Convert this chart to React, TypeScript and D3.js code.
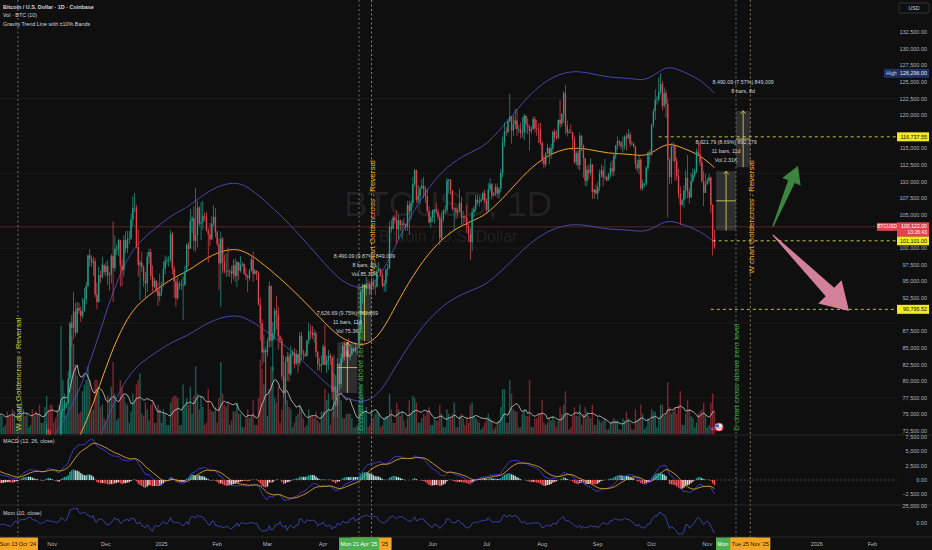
import React, { useMemo } from 'react';
import * as d3 from 'd3';

// ── Data ──────────────────────────────────────────────────────────────────────
// One row per day: [close, high, low, volume]; prices in k USD, volume in k BTC.
type Row = [number, number, number, number];

const FIRST_OPEN = 59.0;

const SEP_24: Row[] = [
  [57.3, 59.0, 57.2, 7], [59.1, 59.4, 57.1, 9], [57.5, 59.8, 57.4, 9], [58.0, 58.5, 55.6, 11], [56.2, 58.3, 55.7, 9],
  [53.9, 56.9, 52.6, 14], [54.2, 54.8, 53.7, 5], [54.9, 55.3, 53.6, 5], [57.0, 58.1, 54.6, 11], [57.6, 58.0, 56.4, 9],
  [57.3, 57.9, 55.5, 10], [58.1, 58.6, 57.3, 8], [60.5, 60.6, 57.6, 10], [60.0, 60.6, 59.5, 4], [59.2, 60.4, 58.7, 5],
  [58.2, 59.2, 57.5, 9], [60.3, 61.3, 57.6, 11], [61.8, 62.0, 59.2, 13], [63.0, 64.1, 61.7, 13], [63.2, 64.0, 62.4, 9],
  [63.3, 63.6, 62.8, 4], [63.6, 64.0, 62.4, 5], [63.3, 64.7, 62.8, 8], [64.3, 64.8, 62.7, 8], [63.2, 64.7, 62.6, 8],
  [65.2, 65.8, 62.9, 11], [65.8, 66.5, 64.8, 9], [65.9, 66.3, 65.4, 4], [65.6, 66.1, 65.4, 4], [63.3, 65.6, 62.8, 10],
];
const OCT_24: Row[] = [
  [60.8, 64.1, 60.2, 14], [60.6, 62.4, 59.9, 11], [60.8, 61.5, 59.8, 9], [62.1, 62.5, 60.5, 8], [62.1, 62.4, 61.7, 3],
  [62.8, 63.0, 61.8, 4], [62.3, 64.5, 62.1, 10], [62.1, 63.2, 61.8, 8], [60.6, 62.5, 60.3, 8], [60.3, 61.3, 58.9, 11],
  [62.5, 63.4, 60.1, 10], [63.2, 63.5, 62.4, 4], [62.8, 63.3, 62.0, 4], [66.0, 66.5, 62.4, 13], [67.0, 67.9, 64.8, 15],
  [67.6, 68.4, 66.7, 11], [67.4, 67.9, 66.7, 8], [68.4, 68.9, 67.1, 9], [68.4, 68.7, 68.1, 3], [69.0, 69.4, 68.1, 4],
  [67.4, 69.5, 66.6, 11], [67.4, 67.8, 66.6, 8], [66.7, 67.5, 65.3, 10], [68.2, 68.8, 66.6, 9], [66.6, 68.8, 65.5, 13],
  [67.0, 67.4, 66.5, 5], [67.9, 68.3, 66.8, 5], [69.9, 70.3, 67.6, 12], [72.7, 73.6, 69.7, 17], [72.3, 72.9, 71.4, 11],
  [70.2, 72.7, 69.7, 13],
];
const NOV_24: Row[] = [
  [69.5, 71.6, 68.8, 13], [69.3, 69.9, 69.0, 5], [68.8, 69.4, 67.5, 7], [67.8, 69.5, 66.8, 11], [69.4, 70.6, 67.5, 13],
  [75.6, 76.5, 69.3, 48], [75.9, 76.9, 74.5, 24], [76.5, 77.2, 75.6, 18], [76.7, 76.9, 75.9, 8], [80.4, 81.5, 76.5, 23],
  [88.7, 89.0, 80.2, 45], [88.0, 89.9, 85.2, 43], [90.5, 93.4, 86.3, 40], [87.3, 91.8, 86.7, 31], [91.0, 91.9, 87.2, 26],
  [90.6, 91.8, 90.1, 9], [89.8, 91.2, 88.9, 10], [90.5, 92.5, 89.4, 19], [92.3, 94.0, 90.6, 22], [94.3, 94.9, 91.6, 24],
  [98.9, 99.0, 94.1, 30], [98.4, 99.8, 97.2, 24], [97.8, 98.9, 97.2, 10], [98.0, 98.7, 95.8, 11], [93.0, 98.5, 92.6, 24],
  [91.9, 94.8, 90.8, 24], [95.9, 97.2, 91.8, 19], [95.6, 96.6, 94.7, 12], [97.5, 98.7, 95.4, 13], [96.4, 97.5, 96.0, 7],
];
const DEC_24: Row[] = [
  [97.3, 97.9, 95.7, 6], [95.9, 98.2, 94.5, 17], [96.0, 96.4, 93.6, 16], [98.8, 99.1, 94.7, 21], [97.0, 104.0, 91.9, 32],
  [99.9, 101.9, 96.5, 18], [99.9, 100.5, 99.0, 6], [101.2, 101.4, 98.8, 7], [97.4, 101.2, 94.2, 24], [96.7, 98.3, 94.3, 21],
  [101.2, 101.9, 95.7, 17], [100.0, 102.5, 99.3, 14], [101.4, 102.6, 99.2, 13], [101.4, 102.6, 100.6, 5], [104.3, 105.2, 101.2, 10],
  [106.0, 107.8, 103.3, 18], [106.1, 108.3, 105.4, 15], [100.2, 106.5, 100.0, 22], [97.5, 102.8, 95.7, 24], [97.8, 98.2, 92.2, 27],
  [97.2, 99.5, 96.4, 9], [95.1, 97.4, 94.2, 8], [94.7, 96.4, 92.4, 14], [98.7, 99.4, 93.4, 11], [99.4, 99.9, 97.6, 6],
  [95.8, 99.9, 95.2, 13], [94.2, 97.4, 93.5, 14], [95.1, 95.5, 94.0, 5], [93.7, 95.2, 93.3, 5], [92.8, 94.9, 91.3, 13],
  [93.4, 96.2, 92.0, 11],
];
const JAN_25: Row[] = [
  [94.4, 94.9, 92.8, 5], [96.9, 98.0, 94.2, 11], [98.1, 98.9, 96.1, 9], [98.2, 98.7, 97.5, 4], [98.3, 98.8, 97.2, 4],
  [102.1, 102.7, 97.9, 14], [96.9, 102.4, 96.1, 16], [95.0, 97.3, 92.5, 17], [92.5, 95.4, 91.2, 17], [94.7, 95.8, 92.2, 16],
  [94.5, 95.0, 93.8, 4], [94.5, 95.3, 93.7, 4], [94.5, 95.8, 89.2, 22], [96.5, 97.4, 94.3, 13], [100.5, 100.7, 96.5, 16],
  [99.9, 100.9, 97.3, 13], [104.1, 105.9, 99.9, 21], [104.5, 104.9, 102.3, 9], [101.1, 106.3, 99.6, 17], [102.0, 109.1, 99.5, 30],
  [106.1, 107.1, 100.1, 18], [103.7, 106.3, 103.3, 11], [103.9, 106.9, 101.2, 17], [104.8, 107.1, 102.8, 12], [104.7, 105.3, 104.1, 4],
  [102.6, 105.5, 102.5, 5], [102.1, 103.0, 97.8, 20], [101.3, 103.8, 100.3, 11], [103.7, 104.8, 101.3, 10], [104.7, 106.4, 103.3, 10],
  [102.4, 106.0, 101.6, 12],
];
const FEB_25: Row[] = [
  [100.6, 102.7, 100.3, 5], [97.7, 101.5, 93.7, 16], [101.4, 102.5, 91.2, 32], [97.9, 101.7, 96.2, 18], [96.6, 99.0, 96.2, 13],
  [96.6, 99.2, 95.7, 12], [96.5, 100.1, 95.7, 14], [96.5, 96.8, 95.7, 4], [96.1, 97.3, 94.7, 6], [97.4, 98.3, 95.3, 10],
  [95.8, 98.5, 94.9, 10], [97.9, 98.1, 94.1, 14], [96.6, 97.3, 95.2, 9], [97.5, 98.8, 96.3, 9], [97.6, 97.9, 97.2, 3],
  [96.1, 97.7, 96.0, 3], [95.8, 97.0, 95.2, 7], [95.5, 96.0, 93.4, 11], [96.6, 96.9, 95.1, 7], [98.3, 98.7, 96.5, 8],
  [96.1, 99.5, 94.9, 15], [96.6, 96.9, 96.0, 4], [96.2, 96.7, 95.2, 4], [91.5, 96.5, 91.4, 16], [88.7, 92.5, 86.1, 33],
  [84.3, 89.3, 82.3, 29], [84.7, 87.0, 82.8, 22], [84.4, 85.1, 78.2, 37],
];
const MAR_25: Row[] = [
  [86.0, 86.5, 83.7, 8], [94.3, 95.0, 85.1, 20], [86.1, 94.4, 85.1, 30], [87.2, 88.9, 81.5, 30], [90.6, 91.0, 86.3, 16],
  [89.9, 92.8, 87.8, 14], [86.7, 91.2, 84.7, 21], [86.2, 86.9, 85.7, 5], [80.7, 86.5, 80.1, 11], [78.5, 83.9, 77.5, 25],
  [82.9, 83.6, 76.6, 24], [83.7, 84.4, 80.0, 15], [81.1, 84.3, 79.9, 12], [84.0, 85.3, 80.8, 11], [84.3, 84.7, 83.7, 3],
  [82.6, 85.0, 81.9, 5], [84.1, 84.7, 82.4, 8], [82.7, 84.1, 81.2, 9], [86.8, 87.4, 82.3, 13], [84.2, 87.4, 83.2, 11],
  [84.0, 84.7, 83.2, 7], [83.8, 84.5, 83.6, 3], [86.1, 86.2, 83.7, 4], [87.5, 88.8, 85.6, 11], [87.4, 88.5, 86.3, 8],
  [86.9, 88.3, 86.3, 8], [87.2, 87.8, 85.8, 7], [84.4, 87.5, 83.6, 10], [82.6, 84.6, 81.6, 6], [82.3, 83.5, 81.6, 5],
  [82.5, 83.9, 81.3, 10],
];
const APR_25: Row[] = [
  [85.2, 85.5, 82.4, 10], [82.5, 88.5, 82.3, 20], [83.1, 83.9, 81.2, 15], [83.8, 84.7, 81.7, 18], [83.5, 84.2, 82.4, 4],
  [78.4, 83.8, 77.2, 10], [79.2, 81.2, 74.5, 35], [76.3, 80.9, 76.2, 20], [82.6, 83.5, 74.6, 27], [79.6, 82.7, 78.5, 18],
  [83.4, 84.2, 78.9, 15], [85.3, 85.9, 82.8, 7], [83.7, 86.0, 83.1, 7], [84.5, 85.8, 83.7, 9], [83.6, 86.5, 83.6, 9],
  [84.0, 85.5, 83.1, 9], [84.9, 85.5, 83.8, 7], [84.5, 85.1, 84.3, 3], [85.0, 85.6, 84.3, 3], [85.1, 85.3, 83.9, 4],
  [87.5, 88.9, 85.1, 14], [93.4, 93.9, 87.2, 22], [93.7, 94.7, 91.7, 17], [93.9, 94.0, 91.7, 10], [94.7, 95.7, 92.9, 12],
  [94.6, 95.3, 93.9, 3], [93.8, 95.0, 93.0, 4], [95.0, 95.6, 92.9, 10], [94.3, 95.5, 93.8, 7], [94.2, 95.2, 92.9, 9],
];
const MAY_25: Row[] = [
  [96.5, 97.4, 94.1, 10], [96.9, 97.9, 96.3, 9], [95.9, 96.9, 95.7, 3], [94.3, 96.3, 94.1, 4], [94.7, 95.2, 93.5, 7],
  [96.8, 96.9, 93.4, 8], [97.0, 97.6, 95.8, 8], [103.2, 104.0, 96.9, 18], [102.9, 104.3, 102.3, 11], [104.6, 104.9, 102.8, 5],
  [104.2, 105.0, 103.7, 5], [102.8, 105.7, 100.7, 14], [104.2, 105.0, 101.4, 11], [103.5, 104.3, 102.6, 8], [103.7, 104.2, 101.3, 10],
  [103.5, 104.5, 103.1, 6], [103.2, 103.7, 102.6, 3], [106.5, 107.1, 102.6, 7], [105.6, 107.1, 102.0, 15], [106.8, 107.3, 104.2, 9],
  [109.6, 110.7, 106.1, 17], [111.7, 111.9, 109.3, 16], [107.3, 111.8, 106.8, 14], [107.8, 109.5, 106.9, 5], [109.0, 109.3, 106.6, 5],
  [109.4, 110.4, 108.8, 7], [108.9, 110.7, 107.5, 9], [107.8, 109.3, 106.8, 8], [105.6, 108.9, 105.3, 10], [103.9, 106.3, 103.7, 12],
  [104.6, 104.9, 103.1, 4],
];
const JUN_25: Row[] = [
  [105.7, 105.8, 103.9, 4], [105.8, 105.9, 103.7, 7], [105.4, 106.8, 105.1, 6], [104.7, 105.9, 104.2, 6], [101.5, 105.0, 100.4, 13],
  [104.3, 105.4, 101.1, 9], [105.6, 105.9, 103.9, 3], [105.7, 106.5, 105.1, 3], [110.2, 110.6, 105.3, 11], [110.3, 110.4, 108.3, 9],
  [108.7, 110.4, 108.1, 7], [105.9, 108.5, 105.6, 9], [106.0, 106.2, 102.7, 14], [105.4, 106.2, 104.3, 3], [105.6, 106.0, 104.5, 3],
  [106.8, 108.9, 105.4, 8], [104.6, 107.7, 103.4, 9], [104.8, 105.6, 103.6, 7], [104.6, 105.0, 103.9, 4], [103.3, 106.5, 102.3, 7],
  [102.1, 103.9, 100.9, 5], [100.9, 103.0, 98.2, 13], [105.4, 106.0, 99.6, 14], [105.9, 106.3, 104.6, 8], [107.3, 108.0, 105.4, 7],
  [106.9, 108.0, 106.5, 6], [107.1, 107.8, 106.2, 5], [107.3, 107.6, 106.8, 2], [108.3, 108.5, 107.2, 3], [107.1, 108.8, 106.8, 5],
];
const JUL_25: Row[] = [
  [105.7, 107.5, 105.3, 7], [108.8, 109.8, 105.6, 9], [109.6, 110.5, 108.5, 7], [107.9, 109.8, 107.3, 6], [108.2, 108.4, 107.8, 2],
  [109.2, 109.7, 107.8, 3], [108.2, 109.7, 107.6, 5], [108.9, 109.2, 107.4, 6], [111.3, 111.9, 108.4, 12], [115.9, 116.8, 110.6, 20],
  [117.5, 118.9, 115.2, 20], [117.4, 118.2, 116.9, 5], [119.1, 119.5, 117.3, 5], [119.8, 123.2, 118.9, 24], [117.7, 119.5, 115.7, 18],
  [118.6, 120.0, 116.9, 11], [119.2, 120.9, 117.9, 10], [117.9, 120.9, 116.9, 10], [117.9, 118.5, 117.3, 3], [117.3, 118.9, 116.5, 3],
  [117.4, 119.7, 116.6, 9], [119.9, 120.2, 116.2, 11], [118.6, 120.0, 117.3, 8], [118.3, 119.5, 117.1, 8], [117.6, 118.5, 114.7, 24],
  [117.9, 118.3, 117.2, 3], [119.4, 119.8, 117.8, 3], [118.0, 119.8, 117.4, 7], [117.9, 119.3, 116.9, 7], [117.8, 118.8, 115.8, 9],
  [115.8, 118.9, 115.5, 9],
];
const AUG_25: Row[] = [
  [113.3, 116.1, 112.7, 15], [112.6, 114.0, 112.0, 5], [114.2, 114.4, 112.2, 4], [115.1, 115.7, 114.1, 5], [114.1, 115.1, 112.6, 7],
  [115.0, 115.7, 113.4, 6], [117.5, 117.7, 114.3, 8], [116.7, 117.9, 115.9, 6], [116.5, 117.7, 116.3, 3], [119.3, 119.3, 116.6, 6],
  [118.7, 122.3, 118.1, 12], [120.2, 120.3, 118.2, 9], [123.3, 123.6, 118.9, 13], [118.4, 124.5, 117.2, 19], [117.4, 119.2, 116.8, 9],
  [117.5, 117.9, 117.2, 2], [117.4, 118.6, 117.3, 3], [116.3, 117.5, 114.7, 8], [112.9, 116.8, 112.7, 12], [114.3, 114.6, 112.4, 8],
  [112.5, 114.8, 111.9, 8], [116.9, 117.4, 111.7, 13], [115.4, 117.0, 114.6, 4], [113.5, 115.6, 110.6, 9], [110.1, 113.6, 109.3, 12],
  [111.8, 112.4, 109.3, 10], [111.3, 112.6, 110.3, 8], [112.6, 113.5, 110.9, 7], [108.4, 112.6, 107.4, 13], [108.8, 108.9, 107.4, 4],
  [108.2, 109.5, 108.1, 4],
];
const SEP_25: Row[] = [
  [109.2, 109.9, 107.3, 7], [111.2, 111.8, 108.6, 6], [111.7, 112.6, 110.6, 5], [110.7, 112.3, 109.3, 6], [110.7, 113.4, 110.2, 7],
  [110.2, 110.9, 110.0, 2], [111.1, 111.3, 110.2, 2], [112.0, 112.9, 110.6, 5], [111.5, 113.2, 110.9, 6], [113.9, 114.3, 110.8, 7],
  [115.5, 115.5, 113.4, 6], [116.1, 116.8, 114.8, 6], [115.9, 116.3, 115.3, 2], [115.3, 116.1, 114.8, 2], [115.4, 116.8, 114.4, 7],
  [116.8, 117.0, 114.8, 6], [116.5, 117.3, 114.7, 10], [117.1, 117.9, 116.5, 7], [115.7, 117.5, 115.2, 5], [115.7, 116.1, 115.5, 2],
  [115.3, 115.9, 115.1, 2], [112.7, 115.4, 111.9, 11], [112.0, 113.3, 111.5, 6], [113.3, 113.9, 111.1, 7], [109.0, 113.5, 108.7, 13],
  [109.7, 110.3, 108.6, 9], [109.7, 109.8, 109.2, 2], [112.1, 112.3, 109.4, 3], [114.4, 114.5, 111.6, 7], [114.0, 114.8, 112.7, 6],
];
const OCT_25: Row[] = [
  [118.6, 118.7, 113.9, 11], [120.6, 121.0, 118.2, 10], [122.3, 123.9, 119.3, 10], [122.4, 122.9, 121.6, 3], [123.5, 125.7, 122.0, 7],
  [124.7, 126.296, 123.1, 13], [121.4, 125.1, 120.7, 13], [123.3, 124.2, 121.1, 8], [121.7, 123.8, 119.6, 9], [113.2, 122.5, 104.6, 23],
  [110.7, 113.5, 109.6, 12], [115.2, 115.8, 109.7, 9], [115.3, 116.0, 113.0, 10], [113.1, 115.6, 110.1, 12], [110.8, 113.6, 110.2, 9],
  [108.2, 111.9, 107.5, 13], [106.5, 109.3, 103.5, 19], [107.2, 107.5, 106.4, 4], [108.7, 109.5, 106.1, 4], [110.6, 111.7, 107.4, 9],
  [108.5, 114.0, 107.5, 15], [107.6, 109.0, 106.7, 11], [110.1, 111.3, 107.6, 8], [111.0, 112.0, 109.8, 7], [111.6, 111.9, 110.6, 3],
  [114.5, 115.0, 111.3, 5], [114.1, 116.1, 113.9, 9], [112.9, 116.0, 112.3, 10], [110.1, 113.6, 109.8, 11], [108.3, 111.6, 106.3, 14],
  [109.6, 111.2, 108.6, 9],
];
const NOV_25: Row[] = [
  [110.1, 110.6, 109.5, 3], [110.6, 111.2, 109.7, 4], [106.5, 110.8, 105.3, 14], [101.5, 106.6, 98.9, 18], [100.122, 102.8, 99.9, 10],
];

const MONTHS: [string, Row[]][] = [
  ['2024-09-01', SEP_24], ['2024-10-01', OCT_24], ['2024-11-01', NOV_24], ['2024-12-01', DEC_24],
  ['2025-01-01', JAN_25], ['2025-02-01', FEB_25], ['2025-03-01', MAR_25], ['2025-04-01', APR_25],
  ['2025-05-01', MAY_25], ['2025-06-01', JUN_25], ['2025-07-01', JUL_25], ['2025-08-01', AUG_25],
  ['2025-09-01', SEP_25], ['2025-10-01', OCT_25], ['2025-11-01', NOV_25],
];

// Gravity trend line; bands are ±10 %
const TREND: [string, number][] = [
  ['2024-10-03', 57.0], ['2024-10-20', 61.0], ['2024-11-05', 65.9], ['2024-11-18', 72.2], ['2024-11-28', 79.7],
  ['2024-12-05', 85.1], ['2024-12-13', 89.6], ['2024-12-20', 91.9], ['2024-12-29', 93.7], ['2025-01-07', 95.5],
  ['2025-01-15', 96.4], ['2025-01-22', 97.8], ['2025-02-01', 99.4], ['2025-02-10', 99.9], ['2025-02-16', 99.6],
  ['2025-02-24', 98.2], ['2025-03-08', 95.5], ['2025-03-19', 92.7], ['2025-03-30', 89.6], ['2025-04-10', 86.5],
  ['2025-04-21', 85.3], ['2025-04-27', 85.7], ['2025-05-04', 87.4], ['2025-05-13', 92.2], ['2025-05-24', 97.2],
  ['2025-06-04', 100.9], ['2025-06-15', 103.2], ['2025-06-26', 104.4], ['2025-07-02', 105.3], ['2025-07-13', 108.3],
  ['2025-07-24', 111.7], ['2025-08-04', 114.0], ['2025-08-16', 115.2], ['2025-08-27', 114.9], ['2025-09-07', 114.2],
  ['2025-09-18', 114.2], ['2025-09-28', 113.7], ['2025-10-05', 115.1], ['2025-10-11', 115.8], ['2025-10-18', 115.1],
  ['2025-10-28', 114.0], ['2025-11-05', 112.1],
];

// Date & price range drawings
const RANGES = [
  { start: '2025-04-09', bars: 11, from: 78.22, to: 85.85, lines: ['7,626.69 (9.75%) 762,669', '11 bars, 11d', 'Vol 75.3K'] },
  { start: '2025-04-20', bars: 8, from: 86.0, to: 94.49, lines: ['8,490.09 (9.87%) 849,009', '8 bars, 8d', 'Vol 85.39K'] },
  { start: '2025-11-06', bars: 11, from: 102.65, to: 111.57, lines: ['8,921.79 (8.69%) 892,179', '11 bars, 11d', 'Vol 2.31K'] },
  { start: '2025-11-17', bars: 8, from: 112.16, to: 120.65, lines: ['8,490.09 (7.57%) 849,009', '8 bars, 8d'] },
];

const LEVELS = [
  { price: 116.73755, from: '2025-10-05', label: '116,737.55' },
  { price: 101.101, from: '2025-11-04', label: '101,101.00' },
  { price: 90.79552, from: '2025-11-03', label: '90,795.52' },
];

// drawn in this order so the later tags cover the earlier ones
const VMARKS = [
  { date: '2024-10-13', line: 'rgba(190,190,190,0.55)', text: 'W chart Goldencross - Reversal', color: '#c3c13c', pos: 'bottom', tag: '#f5a524', tagText: '#131313' },
  { date: '2025-04-28', line: 'rgba(245,165,36,0.75)', text: 'W chart Goldencross - Reversal', color: '#f5a524', pos: 'middle', tag: '#f5a524', tagText: '#131313' },
  { date: '2025-04-21', line: 'rgba(170,190,170,0.55)', text: 'D chart cross above zero level', color: '#43a047', pos: 'bottom', tag: '#4caf50', tagText: '#ffffff' },
  { date: '2025-11-17', line: 'rgba(190,190,190,0.5)', text: 'D chart cross above zero level', color: '#43a047', pos: 'bottom', tag: '#4caf50', tagText: '#ffffff' },
  { date: '2025-11-25', line: 'rgba(210,190,120,0.6)', text: 'W chart Goldencross - Reversal', color: '#f5a524', pos: 'middle', tag: '#f5a524', tagText: '#131313' },
];

const ARROWS = [
  { from: ['2025-12-07T12:00', 102.0], to: ['2026-01-19', 90.55], color: '#e48aa6', head: 27, half: 16.5, shaft: 6 },
  { from: ['2025-12-07T12:00', 103.2], to: ['2025-12-21T12:00', 112.35], color: '#3f8f42', head: 17, half: 10, shaft: 3.6 },
];

const GRID_PRICES = [77.5, 88.75, 100, 111.25, 122.5];
const PRICE_LINE = 103.2;
const LAST_TIME = '13:26:43';

// ── Layout ────────────────────────────────────────────────────────────────────
const W = 932, H = 550;
const PANE_R = 897;
const MAIN_B = 435, MACD_B = 505, MOM_B = 537;
const BG = '#0f0f0f';
const UP = '#1f9f8a', DOWN = '#e5424f';
const TXT = '#b2b5be';
const FONT = '"Liberation Sans", Arial, sans-serif';
const DAY = 86400000;

const dt = (s: string) => new Date(s.length > 10 ? s + ':00Z' : s + 'T00:00:00Z');

const x = d3.scaleUtc().domain([dt('2024-10-03'), dt('2026-02-01')]).range([0, 872.4]);
const yP = d3.scaleLinear().domain([72.5, 132.5]).range([431, 32]);
const yVol = d3.scaleLinear().domain([0, 48]).range([434, 326]);
const yMacd = d3.scaleLinear().domain([0, 7.5]).range([480, 437]);
const yMom = d3.scaleLinear().domain([0, 25]).range([523, 505.5]);

const fmtP = d3.format(',.2f');
const fmtTag = d3.utcFormat("%a %-d %b '%y");

function ema(vals: number[], n: number) {
  const k = 2 / (n + 1);
  let e = vals[0];
  return vals.map((v, i) => (e = i === 0 ? v : v * k + e * (1 - k)));
}

function arrowPoints(x0: number, y0: number, x1: number, y1: number, head: number, half: number, shaft: number) {
  const L = Math.hypot(x1 - x0, y1 - y0);
  const ux = (x1 - x0) / L, uy = (y1 - y0) / L;
  const px = -uy, py = ux;
  const bx = x1 - ux * head, by = y1 - uy * head;
  const pts = [
    [x0 + px * 0.6, y0 + py * 0.6], [bx + px * shaft, by + py * shaft], [bx + px * half, by + py * half],
    [x1, y1], [bx - px * half, by - py * half], [bx - px * shaft, by - py * shaft], [x0 - px * 0.6, y0 - py * 0.6],
  ];
  return pts.map(p => p.join(',')).join(' ');
}

export default function App() {
  const data = useMemo(() => {
    const bars: { t: Date; o: number; c: number; h: number; l: number; v: number }[] = [];
    let prev = FIRST_OPEN;
    MONTHS.forEach(([start, rows]) => {
      const t0 = dt(start).getTime();
      rows.forEach(([c, h, l, v], i) => {
        bars.push({ t: new Date(t0 + i * DAY), o: prev, c, h: Math.max(h, prev, c), l: Math.min(l, prev, c), v });
        prev = c;
      });
    });
    const closes = bars.map(b => b.c);
    const e12 = ema(closes, 12), e26 = ema(closes, 26);
    const macd = closes.map((_, i) => e12[i] - e26[i]);
    const signal = ema(macd, 9);
    const hist = macd.map((m, i) => m - signal[i]);
    const mom = closes.map((c, i) => (i >= 10 ? c - closes[i - 10] : 0));
    const volMa = bars.map((_, i) => d3.mean(bars.slice(Math.max(0, i - 9), i + 1), b => b.v) as number);
    return { bars, macd, signal, hist, mom, volMa };
  }, []);

  const { bars, macd, signal, hist, mom, volMa } = data;
  const last = bars[bars.length - 1];
  const hi = d3.max(bars, b => b.h) as number;

  const idxLine = (ys: number[], sy: (v: number) => number, from = 0) =>
    d3.line<number>().x((_, i) => x(bars[i + from].t)).y(v => sy(v))(ys.slice(from)) || '';

  const trendPts = TREND.map(([d, v]) => [x(dt(d)), v] as [number, number]);
  const band = (f: number) =>
    d3.line<[number, number]>().x(p => p[0]).y(p => yP(p[1] * f)).curve(d3.curveBasis)(trendPts) || '';

  // axis labels that sit under a tag are not shown (TradingView hides them too)
  const tagXs = VMARKS.map(m => x(dt(m.date)));
  const monthTicks = x.ticks(d3.utcMonth.every(1) as d3.TimeInterval)
    .filter(t => tagXs.every(tx => Math.abs(x(t) - tx) > 24));
  const tagYs = [...LEVELS.map(l => yP(l.price)), yP(PRICE_LINE) + 3];
  const priceTicks = d3.range(72.5, 133, 2.5).filter(p => tagYs.every(ty => Math.abs(yP(p) - ty) > 6.5));

  return (
    <svg width={W} height={H} style={{ position: 'fixed', left: 0, top: 0 }} fontFamily={FONT}>
      <defs>
        <clipPath id="cMain"><rect x={0} y={0} width={PANE_R} height={MAIN_B} /></clipPath>
        <clipPath id="cMacd"><rect x={0} y={MAIN_B} width={PANE_R} height={MACD_B - MAIN_B} /></clipPath>
        <clipPath id="cMom"><rect x={0} y={MACD_B} width={PANE_R} height={MOM_B - MACD_B} /></clipPath>
      </defs>
      <rect width={W} height={H} fill={BG} />

      {/* grid */}
      {GRID_PRICES.map(p => (
        <line key={p} x1={0} x2={PANE_R} y1={yP(p)} y2={yP(p)} stroke="#1a1a1a" strokeWidth={1} />
      ))}

      {/* watermark */}
      <text x={448} y={216} textAnchor="middle" fontSize={35} fill="rgba(170,170,170,0.13)">BTCUSD, 1D</text>
      <text x={448} y={242} textAnchor="middle" fontSize={16} fill="rgba(170,170,170,0.13)">Bitcoin / U.S. Dollar</text>

      {/* vertical markers */}
      {VMARKS.map(m => {
        const xx = x(dt(m.date));
        return <line key={'vl' + m.date} x1={xx} x2={xx} y1={0} y2={MOM_B} stroke={m.line} strokeWidth={1} strokeDasharray="2,2.5" />;
      })}

      {/* current price line */}
      <line x1={0} x2={PANE_R} y1={yP(PRICE_LINE)} y2={yP(PRICE_LINE)} stroke="rgba(229,66,79,0.45)" strokeWidth={0.8} />

      <g clipPath="url(#cMain)">
        {/* volume */}
        {bars.map((b, i) => (
          <rect key={'v' + i} x={x(b.t) - 0.7} width={1.4} y={yVol(b.v)} height={yVol(0) - yVol(b.v)}
            fill={b.c >= b.o ? 'rgba(31,159,138,0.55)' : 'rgba(229,66,79,0.5)'} />
        ))}
        <path d={idxLine(volMa, v => yVol(v), 0)} fill="none" stroke="rgba(235,235,235,0.85)" strokeWidth={0.8} />

        {/* gravity trend line with bands */}
        <path d={band(1.1)} fill="none" stroke="#4d4dbb" strokeWidth={0.9} />
        <path d={band(0.9)} fill="none" stroke="#4d4dbb" strokeWidth={0.9} />
        <path d={band(1)} fill="none" stroke="#f5a524" strokeWidth={1} />

        {/* candles */}
        {bars.map((b, i) => {
          const xx = x(b.t);
          const col = b.c >= b.o ? UP : DOWN;
          const top = yP(Math.max(b.o, b.c)), bot = yP(Math.min(b.o, b.c));
          return (
            <g key={'c' + i}>
              <rect x={xx - 0.35} width={0.7} y={yP(b.h)} height={yP(b.l) - yP(b.h)} fill={col} />
              <rect x={xx - 0.7} width={1.4} y={top} height={Math.max(0.8, bot - top)} fill={col} />
            </g>
          );
        })}
      </g>

      {/* date & price ranges */}
      {RANGES.map(r => {
        const x0 = x(dt(r.start)), x1 = x(new Date(dt(r.start).getTime() + r.bars * DAY));
        const yt = yP(r.to), yb = yP(r.from), cx = (x0 + x1) / 2, my = (yt + yb) / 2;
        return (
          <g key={'r' + r.start}>
            <rect x={x0} y={yt} width={x1 - x0} height={yb - yt} fill="rgba(200,200,200,0.17)" />
            <line x1={cx} x2={cx} y1={yb} y2={yt} stroke="#c9c452" strokeWidth={0.9} />
            <polyline points={`${cx - 2.5},${yt + 3} ${cx},${yt} ${cx + 2.5},${yt + 3}`} fill="none" stroke="#c9c452" strokeWidth={0.9} />
            <line x1={x0} x2={x1} y1={my} y2={my} stroke="#c9c452" strokeWidth={0.9} />
            {r.lines.map((t, k) => (
              <text key={k} x={cx} y={yt - 27 + k * 9} textAnchor="middle" fontSize={5.3} fill="#d1d4dc">{t}</text>
            ))}
          </g>
        );
      })}

      {/* horizontal levels */}
      {LEVELS.map(l => (
        <line key={'h' + l.label} x1={x(dt(l.from))} x2={PANE_R} y1={yP(l.price)} y2={yP(l.price)}
          stroke="#d9d640" strokeWidth={0.9} strokeDasharray="3,3" />
      ))}

      {/* arrows */}
      {ARROWS.map((a, k) => (
        <polygon key={'a' + k}
          points={arrowPoints(x(dt(a.from[0] as string)), yP(a.from[1] as number), x(dt(a.to[0] as string)), yP(a.to[1] as number), a.head, a.half, a.shaft)}
          fill={a.color} opacity={0.92} />
      ))}

      {/* vertical marker texts */}
      {VMARKS.map(m => {
        const xx = x(dt(m.date)) + 1;
        const ty = m.pos === 'bottom' ? 431 : 217;
        return (
          <text key={'vt' + m.date} transform={`translate(${xx},${ty}) rotate(-90)`} textAnchor={m.pos === 'bottom' ? 'start' : 'middle'}
            dominantBaseline="central" fontSize={8} fill={m.color}>{m.text}</text>
        );
      })}

      {/* event marker */}
      <circle cx={712.5} cy={429} r={1.4} fill="#7e57c2" />
      <circle cx={719} cy={427} r={4} fill="#f2f2f2" stroke="#e5424f" strokeWidth={1} />
      <rect x={716} y={424.5} width={3} height={2.5} fill="#3b5bdb" />
      <line x1={716} x2={722} y1={428} y2={428} stroke="#e5424f" strokeWidth={0.8} />

      {/* MACD pane */}
      <line x1={0} x2={W} y1={MAIN_B} y2={MAIN_B} stroke="#262626" />
      <g clipPath="url(#cMacd)">
        <line x1={0} x2={PANE_R} y1={yMacd(0)} y2={yMacd(0)} stroke="#555" strokeWidth={0.7} strokeDasharray="2,2" />
        {hist.map((h, i) => {
          if (i === 0) return null;
          const rising = h >= hist[i - 1];
          const col = h >= 0 ? (rising ? '#26a69a' : '#b2dfdb') : (rising ? '#ffcdd2' : '#ff5252');
          const y0 = yMacd(0), y1 = yMacd(h);
          return <rect key={'mh' + i} x={x(bars[i].t) - 0.7} width={1.4} y={Math.min(y0, y1)} height={Math.abs(y1 - y0)} fill={col} />;
        })}
        <path d={idxLine(macd, yMacd)} fill="none" stroke="#3d41d1" strokeWidth={0.9} />
        <path d={idxLine(signal, yMacd)} fill="none" stroke="#e0a030" strokeWidth={0.9} />
      </g>

      {/* Momentum pane */}
      <line x1={0} x2={W} y1={MACD_B} y2={MACD_B} stroke="#262626" />
      <g clipPath="url(#cMom)">
        <path d={idxLine(mom, yMom, 10)} fill="none" stroke="#3d4fc8" strokeWidth={0.8} />
      </g>
      <line x1={0} x2={W} y1={MOM_B} y2={MOM_B} stroke="#262626" />

      {/* legends */}
      <text x={3} y={9} fontSize={5.4} fill="#d1d4dc" fontWeight={600}>Bitcoin / U.S. Dollar · 1D · Coinbase</text>
      <text x={3} y={17} fontSize={5.4} fill="#d1d4dc">Vol · BTC (10)</text>
      <text x={3} y={25.5} fontSize={5.4} fill="#d1d4dc">Gravity Trend Line with ±10% Bands</text>
      <text x={3} y={443} fontSize={5.4} fill="#d1d4dc">MACD (12, 26, close)</text>
      <text x={3} y={515} fontSize={5.4} fill="#d1d4dc">Mom (10, close)</text>

      {/* price axis */}
      {priceTicks.map(p => (
        <text key={'pt' + p} x={927} y={yP(p)} textAnchor="end" dominantBaseline="central" fontSize={5.5} fill={TXT}>{fmtP(p * 1000)}</text>
      ))}
      {[-2.5, 0, 2.5, 5, 7.5].map(v => (
        <text key={'mt' + v} x={927} y={yMacd(v)} textAnchor="end" dominantBaseline="central" fontSize={5.5} fill={TXT}>{fmtP(v * 1000)}</text>
      ))}
      {[0, 25].map(v => (
        <text key={'mo' + v} x={927} y={yMom(v)} textAnchor="end" dominantBaseline="central" fontSize={5.5} fill={TXT}>{fmtP(v * 1000)}</text>
      ))}

      {/* price axis tags */}
      <rect x={899} y={3} width={30} height={10} rx={2} fill={BG} stroke="#3a3a3a" strokeWidth={0.8} />
      <text x={914} y={8} textAnchor="middle" dominantBaseline="central" fontSize={5.2} fill="#d1d4dc">USD</text>

      <rect x={884} y={yP(hi) - 4.5} width={45} height={9} fill="#1d3163" />
      <text x={886} y={yP(hi)} dominantBaseline="central" fontSize={5.2} fill="#d1d4dc">High</text>
      <text x={927} y={yP(hi)} textAnchor="end" dominantBaseline="central" fontSize={5.4} fill="#e8e8e8">{fmtP(hi * 1000)}</text>

      {LEVELS.map(l => (
        <g key={'lt' + l.label}>
          <rect x={897} y={yP(l.price) - 4.5} width={32} height={9} fill="#f2ea1d" />
          <text x={927} y={yP(l.price)} textAnchor="end" dominantBaseline="central" fontSize={5.4} fill="#111">{l.label}</text>
        </g>
      ))}

      <rect x={877} y={yP(PRICE_LINE) - 4} width={20} height={8} fill="#e5424f" />
      <text x={887} y={yP(PRICE_LINE)} textAnchor="middle" dominantBaseline="central" fontSize={4.8} fill="#fff">BTCUSD</text>
      <rect x={897} y={yP(PRICE_LINE) - 4.5} width={32} height={14} fill="#e5424f" />
      <text x={927} y={yP(PRICE_LINE) - 0.5} textAnchor="end" dominantBaseline="central" fontSize={5.2} fill="#fff">{fmtP(last.c * 1000)}</text>
      <text x={927} y={yP(PRICE_LINE) + 5.5} textAnchor="end" dominantBaseline="central" fontSize={5} fill="#fff">{LAST_TIME}</text>

      {/* time axis */}
      {monthTicks.map(t => (
        <text key={'tt' + t.getTime()} x={x(t)} y={545.5} textAnchor="middle" fontSize={5.5} fill={TXT}>
          {t.getUTCMonth() === 0 ? d3.utcFormat('%Y')(t) : d3.utcFormat('%b')(t)}
        </text>
      ))}
      {VMARKS.map((m, k) => {
        const xx = x(dt(m.date));
        // a tag covered by a tag drawn later only shows the part that sticks out
        const cover = VMARKS.slice(k + 1).map(n => x(dt(n.date))).find(nx => Math.abs(nx - xx) < 40);
        const full = fmtTag(dt(m.date));
        const words = full.split(' ');
        let label = full, tx = xx;
        if (cover !== undefined && cover > xx) { label = words[0]; tx = xx - 13; }
        if (cover !== undefined && cover < xx) { label = words[words.length - 1]; tx = xx + 13; }
        return (
          <g key={'tg' + m.date}>
            <rect x={xx - 20} y={MOM_B + 0.5} width={40} height={12.5} fill={m.tag} />
            <text x={tx} y={545.5} textAnchor="middle" fontSize={5.5} fill={m.tagText}>{label}</text>
          </g>
        );
      })}
    </svg>
  );
}
